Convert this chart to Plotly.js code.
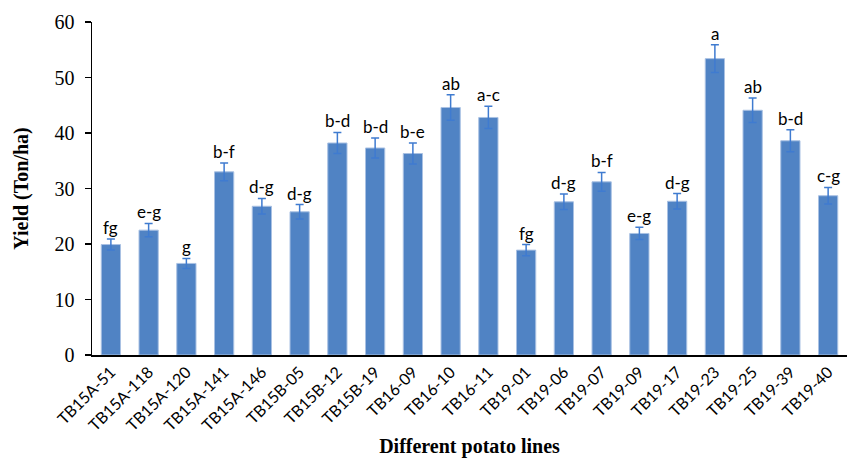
<!DOCTYPE html>
<html>
<head>
<meta charset="utf-8">
<script src="https://cdn.plot.ly/plotly-3.0.1.min.js"></script>
<style>html,body{margin:0;padding:0;background:#fff;}#chart{width:853px;height:462px;}</style>
</head>
<body>
<div id="chart"></div>
<script>
const lines = ["TB15A-51","TB15A-118","TB15A-120","TB15A-141","TB15A-146","TB15B-05","TB15B-12","TB15B-19","TB16-09","TB16-10","TB16-11","TB19-01","TB19-06","TB19-07","TB19-09","TB19-17","TB19-23","TB19-25","TB19-39","TB19-40"];
const yieldVals = [19.9,22.5,16.5,33.0,26.8,25.8,38.2,37.3,36.3,44.6,42.8,18.9,27.6,31.2,21.9,27.7,53.4,44.1,38.6,28.7];
const errVals = [1.0,1.2,0.9,1.6,1.4,1.3,1.9,1.8,1.9,2.3,2.0,1.0,1.4,1.7,1.1,1.4,2.5,2.2,2.0,1.5];
const letters = ["fg","e-g","g","b-f","d-g","d-g","b-d","b-d","b-e","ab","a-c","fg","d-g","b-f","e-g","d-g","a","ab","b-d","c-g"];

const trace = {
  type: "bar",
  x: lines,
  y: yieldVals,
  marker: {color: "#5083c4", line: {color: "#a9c1e3", width: 1}},
  error_y: {type: "data", array: errVals, visible: true, color: "#3f7bd0", thickness: 1.5, width: 4},
  hoverinfo: "x+y"
};

const annotations = lines.map((c, i) => ({
  x: c, y: yieldVals[i] + errVals[i], xref: "x", yref: "y",
  text: letters[i], showarrow: false, yanchor: "bottom", yshift: -1,
  font: {family: "Lato, 'Open Sans', sans-serif", size: 17, color: "#000"}
}));

const layout = {
  width: 853, height: 462,
  margin: {l: 92, r: 6, t: 22, b: 107},
  paper_bgcolor: "#fff", plot_bgcolor: "#fff",
  bargap: 0.49,
  showlegend: false,
  xaxis: {
    type: "category",
    tickangle: -45,
    showline: true, linecolor: "#000", linewidth: 1.5,
    ticks: "", showgrid: false,
    tickfont: {family: "Lato, 'Open Sans', sans-serif", size: 16, color: "#000"},
    title: {text: "Different potato lines", font: {family: "'Liberation Serif', 'Times New Roman', serif", size: 20, color: "#000", weight: "bold"}, standoff: 6}
  },
  yaxis: {
    range: [0, 60], dtick: 10,
    showline: true, linecolor: "#000", linewidth: 1.5,
    ticks: "outside", ticklen: 6, tickcolor: "#000", tickwidth: 1.5,
    ticklabelstandoff: 6,
    showgrid: false, zeroline: false,
    tickfont: {family: "'Liberation Serif', 'Times New Roman', serif", size: 20, color: "#000"},
    title: {text: "Yield (Ton/ha)", font: {family: "'Liberation Serif', 'Times New Roman', serif", size: 20, color: "#000", weight: "bold"}, standoff: 20}
  },
  annotations: annotations
};

Plotly.newPlot("chart", [trace], layout, {displayModeBar: false, staticPlot: true});
</script>
</body>
</html>
